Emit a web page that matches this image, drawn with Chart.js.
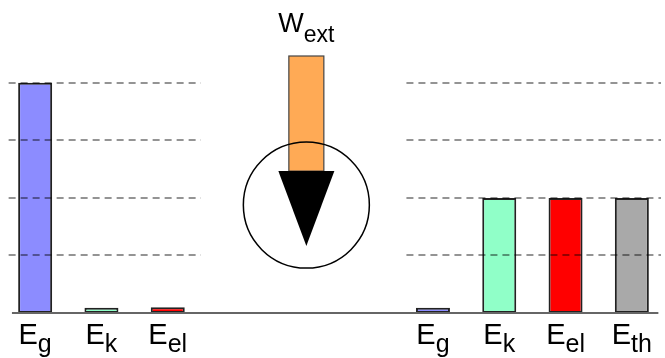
<!DOCTYPE html>
<html>
<head>
<meta charset="utf-8">
<script src="https://cdn.jsdelivr.net/npm/chart.js@4/dist/chart.umd.min.js"></script>
<style>
html,body{margin:0;padding:0;background:#fff;}
#wrap{position:relative;width:665px;height:358px;}
</style>
</head>
<body>
<div id="wrap"><canvas id="c" width="665" height="358"></canvas></div>
<script>
// ---- data ----
const beforeSubs = ['g', 'k', 'el'];          // E_g, E_k, E_el (initial state)
const beforeValues = [4, 0.09, 0.1];
const beforeColors = ['#8c8cff', '#90ffc8', '#ff0000'];
const afterSubs = ['g', 'k', 'el', 'th'];     // E_g, E_k, E_el, E_th (final state)
const afterValues = [0.09, 2, 2, 2];
const afterColors = ['#8c8cff', '#90ffc8', '#ff0000', '#a9a9a9'];
const workSub = 'ext';                         // W_ext
const workValue = 2;
const gridTicks = [1, 2, 3, 4];
const yMax = 4.5;
const gapSlots = 3;

// ---- build category table ----
const gapSubs = Array(gapSlots).fill('');
const subs = [...beforeSubs, ...gapSubs, ...afterSubs];
const labels = subs.map((s, i) => s ? 'E_' + s : ' '.repeat(i));
const values = [...beforeValues, ...Array(gapSlots).fill(null), ...afterValues];
const colors = [...beforeColors, ...Array(gapSlots).fill('rgba(0,0,0,0)'), ...afterColors];

const FONT = '"Liberation Sans", Arial, Helvetica, sans-serif';

const decor = {
  id: 'decor',
  afterDatasetsDraw(chart) {
    const ctx = chart.ctx;
    const xs = chart.scales.x, ys = chart.scales.y;
    const area = chart.chartArea;
    const w = xs.getPixelForValue(1) - xs.getPixelForValue(0);
    const nB = beforeSubs.length;
    const firstA = nB + gapSlots;
    const last = subs.length - 1;
    ctx.save();
    // dashed grid segments (drawn over the bars)
    ctx.strokeStyle = 'rgba(0,0,0,0.42)';
    ctx.lineWidth = 2;
    ctx.setLineDash([7, 5]);
    const segs = [
      [xs.getPixelForValue(0) - 0.4 * w, xs.getPixelForValue(nB - 1) + 0.5 * w],
      [xs.getPixelForValue(firstA) - 0.4 * w, area.right - 4]
    ];
    gridTicks.forEach(t => {
      const y = Math.round(ys.getPixelForValue(t));
      segs.forEach(([a, b]) => {
        ctx.beginPath(); ctx.moveTo(a, y); ctx.lineTo(b, y); ctx.stroke();
      });
    });
    ctx.setLineDash([]);
    // baseline
    const y0 = ys.getPixelForValue(0);
    ctx.strokeStyle = '#666';
    ctx.lineWidth = 2;
    ctx.beginPath();
    ctx.moveTo(xs.getPixelForValue(0) - 0.35 * w, y0);
    ctx.lineTo(xs.getPixelForValue(last) + 0.4 * w, y0);
    ctx.stroke();

    // category labels E_sub
    ctx.fillStyle = '#000';
    ctx.textBaseline = 'alphabetic';
    ctx.textAlign = 'left';
    subs.forEach((s, i) => {
      if (!s) return;
      const cx = xs.getPixelForValue(i);
      ctx.font = '29px ' + FONT;
      const wE = ctx.measureText('E').width;
      ctx.font = '25px ' + FONT;
      const wS = ctx.measureText(s).width;
      const x0 = cx - (wE + wS) / 2;
      ctx.font = '29px ' + FONT;
      ctx.fillText('E', x0, y0 + 31);
      ctx.font = '25px ' + FONT;
      ctx.fillText(s, x0 + wE, y0 + 39);
    });

    // external work arrow into the system
    const mx = (xs.getPixelForValue(nB - 1) + xs.getPixelForValue(firstA)) / 2 + 6;
    const shaftTop = ys.getPixelForValue(yMax) + 2;
    const shaftLen = ys.getPixelForValue(0) - ys.getPixelForValue(workValue);
    const shaftBot = shaftTop + shaftLen;
    const sw = 35;
    ctx.fillStyle = '#ffaa55';
    ctx.fillRect(mx - sw / 2, shaftTop, sw, shaftLen);
    ctx.strokeStyle = '#444';
    ctx.lineWidth = 1.2;
    ctx.strokeRect(mx - sw / 2, shaftTop, sw, shaftLen);
    // arrow head
    ctx.fillStyle = '#000';
    ctx.beginPath();
    ctx.moveTo(mx - 28, shaftBot);
    ctx.lineTo(mx + 28, shaftBot);
    ctx.lineTo(mx, shaftBot + 75);
    ctx.closePath();
    ctx.fill();
    // circle (system)
    ctx.strokeStyle = '#000';
    ctx.lineWidth = 1.5;
    ctx.beginPath();
    ctx.arc(mx, shaftBot + 34, 63, 0, Math.PI * 2);
    ctx.stroke();

    // W_ext title
    ctx.fillStyle = '#000';
    ctx.font = '27px ' + FONT;
    const wW = ctx.measureText('W').width;
    ctx.font = '23px ' + FONT;
    const wX = ctx.measureText(workSub).width;
    const tx = mx - (wW + wX) / 2;
    ctx.font = '27px ' + FONT;
    ctx.fillText('W', tx, 32);
    ctx.font = '23px ' + FONT;
    ctx.fillText(workSub, tx + wW, 42);
    ctx.restore();
  }
};

new Chart(document.getElementById('c'), {
  type: 'bar',
  data: {
    labels: labels,
    datasets: [{
      data: values,
      backgroundColor: colors,
      borderColor: '#222',
      borderWidth: 2,
      borderSkipped: false,
      barPercentage: 0.513,
      categoryPercentage: 1
    }]
  },
  options: {
    responsive: false,
    animation: false,
    layout: { padding: { left: 2, right: 0, top: 54, bottom: 45 } },
    plugins: { legend: { display: false }, tooltip: { enabled: false } },
    scales: {
      x: { display: false },
      y: { display: false, min: 0, max: yMax }
    }
  },
  plugins: [decor]
});
</script>
</body>
</html>
